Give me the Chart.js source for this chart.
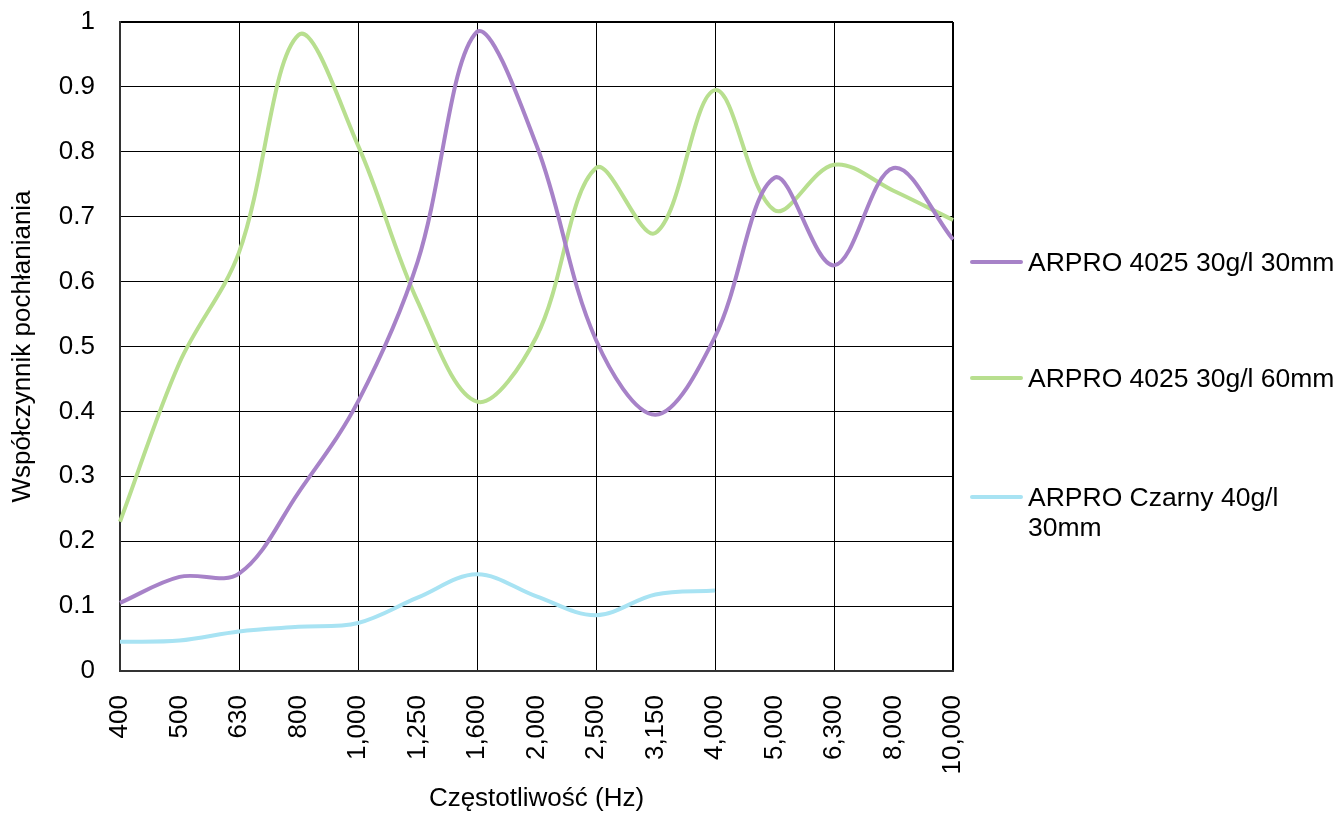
<!DOCTYPE html>
<html>
<head>
<meta charset="utf-8">
<script src="https://cdn.jsdelivr.net/npm/chart.js@4"></script>
<style>
  body { margin: 0; background: #fff; }
  #wrap { position: relative; width: 1338px; height: 814px; }
  .leg { position: absolute; left: 970px; font: 26.5px "Liberation Sans", Arial, sans-serif; color: #000; }
  .leg .swatch { position: absolute; left: 0; width: 53px; height: 4px; border-radius: 2px; }
  .leg .txt { position: absolute; left: 58px; width: 312px; line-height: 30px; }
</style>
</head>
<body>
<div id="wrap">
  <canvas id="chart" width="1338" height="814"></canvas>
  <div id="legend"></div>
</div>
<script>
const freqLabels = ["400", "500", "630", "800", "1,000", "1,250", "1,600", "2,000", "2,500", "3,150", "4,000", "5,000", "6,300", "8,000", "10,000"];

// wspolczynnik pochlaniania dla kazdej probki
const arpro30mm = [0.105, 0.145, 0.15, 0.275, 0.415, 0.63, 0.985, 0.81, 0.51, 0.395, 0.515, 0.76, 0.625, 0.775, 0.665];
const arpro60mm = [0.23, 0.475, 0.645, 0.98, 0.81, 0.57, 0.415, 0.515, 0.775, 0.675, 0.895, 0.71, 0.78, 0.74, 0.695];
const czarny30mm = [0.045, 0.047, 0.061, 0.068, 0.074, 0.113, 0.149, 0.115, 0.086, 0.118, 0.124, null, null, null, null];

const seriesNames = ["ARPRO 4025 30g/l 30mm", "ARPRO 4025 30g/l 60mm", "ARPRO Czarny 40g/l 30mm"];
const seriesColors = ["#a782c8", "#b8df8f", "#a8e3f3"];

Chart.defaults.font.family = "'Liberation Sans', Arial, sans-serif";
Chart.defaults.font.size = 26;
Chart.defaults.color = "#000";

function makeDataset(i, values) {
  return {
    label: seriesNames[i],
    data: values,
    borderColor: seriesColors[i],
    backgroundColor: seriesColors[i],
    borderWidth: 4,
    pointRadius: 0,
    tension: 0.35,
    spanGaps: false,
  };
}

const ctx = document.getElementById("chart");
new Chart(ctx, {
  type: "line",
  data: {
    labels: freqLabels,
    datasets: [makeDataset(0, arpro30mm), makeDataset(1, arpro60mm), makeDataset(2, czarny30mm)],
  },
  options: {
    responsive: false,
    animation: false,
    devicePixelRatio: 1,
    layout: { padding: { top: 0, right: 385, left: 0, bottom: 0 } },
    plugins: { legend: { display: false }, tooltip: { enabled: false } },
    scales: {
      x: {
        offset: false,
        grid: {
          color: (c) => (c.index % 2 === 0 ? "#000" : "rgba(0,0,0,0)"),
          lineWidth: (c) => (c.index === freqLabels.length - 1 ? 2 : 1),
          drawTicks: false,
        },
        border: { color: "#333", width: 2 },
        ticks: { autoSkip: false, minRotation: 90, maxRotation: 90, padding: 24, font: { size: 26 } },
        title: { display: true, text: "Częstotliwość (Hz)", padding: { top: 0, bottom: 0 }, font: { size: 26 } },
        afterFit: (s) => { s.height = 143; },
      },
      y: {
        min: 0,
        max: 1,
        grid: {
          color: "#000",
          lineWidth: (c) => (c.tick && c.tick.value === 1 ? 2 : 1),
          drawTicks: false,
        },
        border: { color: "#333", width: 2 },
        ticks: {
          stepSize: 0.1,
          padding: 25,
          font: { size: 26 },
          callback: (v) => String(Math.round(v * 10) / 10),
        },
        title: { display: true, text: "Współczynnik pochłaniania", padding: { top: 7, bottom: 7 }, font: { size: 26 } },
        afterFit: (s) => {
          s.width = 120;
          s.paddingTop = 22;
          s.paddingBottom = 0;
        },
      },
    },
  },
});

// legenda po prawej stronie
const legendTops = [262, 378, 497];
const legendDiv = document.getElementById("legend");
seriesNames.forEach((name, i) => {
  const item = document.createElement("div");
  item.className = "leg";
  item.style.top = legendTops[i] + "px";
  item.innerHTML = `<div class="swatch" style="background:${seriesColors[i]};top:-2px"></div><div class="txt" style="top:-15px">${name}</div>`;
  legendDiv.appendChild(item);
});
</script>
</body>
</html>
